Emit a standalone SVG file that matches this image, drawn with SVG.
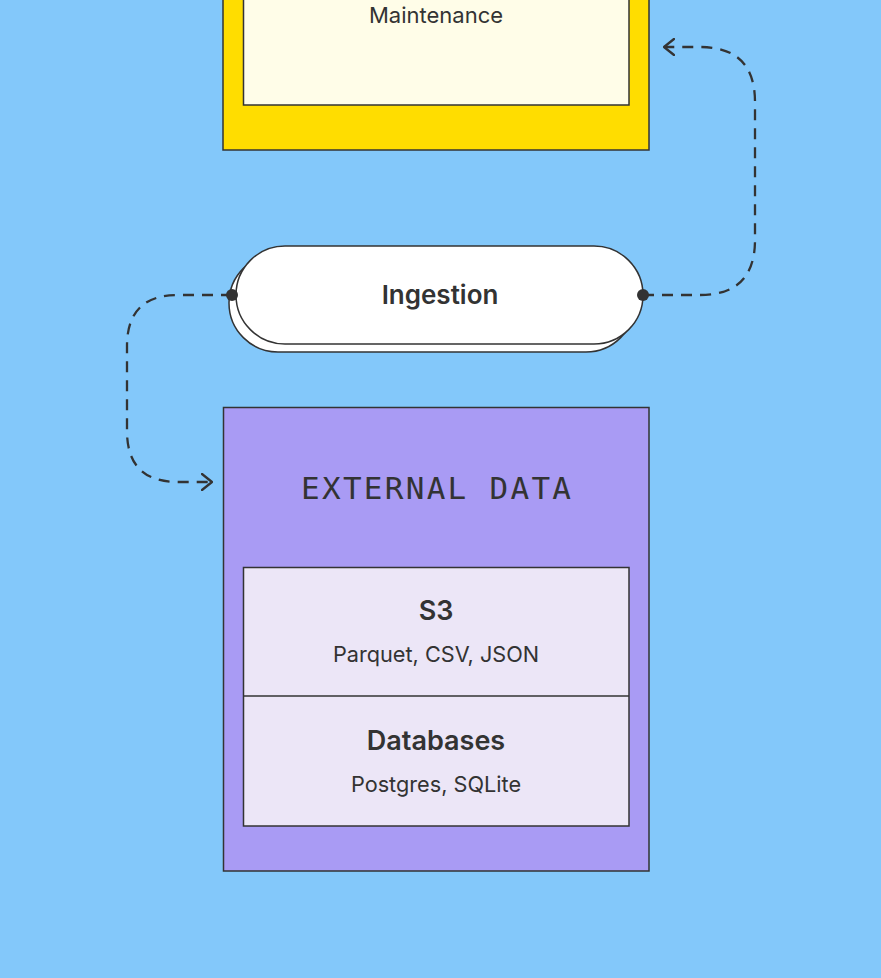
<svg xmlns="http://www.w3.org/2000/svg" width="881" height="978" viewBox="0 0 881 978">
<defs>
<style>
.frame{stroke:#333;stroke-width:1.5}
.t{font-family:Inter,"Noto Sans","Liberation Sans",sans-serif;fill:#333;text-anchor:middle}
.b{font-weight:600}
.conn{fill:none;stroke:#333;stroke-width:2.3;stroke-dasharray:11 8}
.head{fill:none;stroke:#333;stroke-width:2.3;stroke-linecap:round;stroke-linejoin:round}
</style>
<marker id="arrow" viewBox="0 0 12 18" refX="11" refY="9" markerWidth="12" markerHeight="18" markerUnits="userSpaceOnUse" orient="auto">
<path d="M1,1 L11,9 L1,17" class="head"/>
</marker>
</defs>
<rect width="881" height="978" fill="#83C8FA"/>
<g id="maintenance">
<rect x="223" y="-20" width="426" height="170" fill="#FFDD00" class="frame"/>
<rect x="243.5" y="-20" width="385.5" height="125" fill="#FFFDE8" class="frame"/>
<text x="436" y="23" class="t" font-size="22">Maintenance</text>
</g>
<g id="ingestion">
<rect x="229" y="254" width="406" height="98" rx="49" fill="#fff" class="frame"/>
<rect x="236" y="246" width="407" height="98" rx="49" fill="#fff" class="frame"/>
<text x="440" y="304" class="t b" font-size="26">Ingestion</text>
</g>
<g id="external-data">
<rect x="223.5" y="407.5" width="425.5" height="463.5" fill="#A99BF4" class="frame"/>
<text x="301" y="499" font-family="'DejaVu Sans Mono','Liberation Mono',monospace" font-size="31" fill="#333" textLength="270" lengthAdjust="spacing">EXTERNAL DATA</text>
<rect x="243.5" y="567.5" width="385.5" height="258.5" fill="#ECE6F7" class="frame"/>
<line x1="243.5" y1="696" x2="629" y2="696" class="frame"/>
<text x="436" y="620" class="t b" font-size="27">S3</text>
<text x="436" y="662" class="t" font-size="21.7">Parquet, CSV, JSON</text>
<text x="436" y="750" class="t b" font-size="27">Databases</text>
<text x="436" y="792" class="t" font-size="21.7">Postgres, SQLite</text>
</g>
<g id="connectors">
<path d="M232,295 L178,295 Q127,295 127,346 L127,431 Q127,482 178,482 L212,482" class="conn" marker-end="url(#arrow)"/>
<path d="M643,295 L700,295 Q755,295 755,240 L755,102 Q755,47 700,47 L664,47" class="conn" marker-end="url(#arrow)"/>
<circle cx="232" cy="295" r="6" fill="#333"/>
<circle cx="643" cy="295" r="6" fill="#333"/>
</g>
</svg>
